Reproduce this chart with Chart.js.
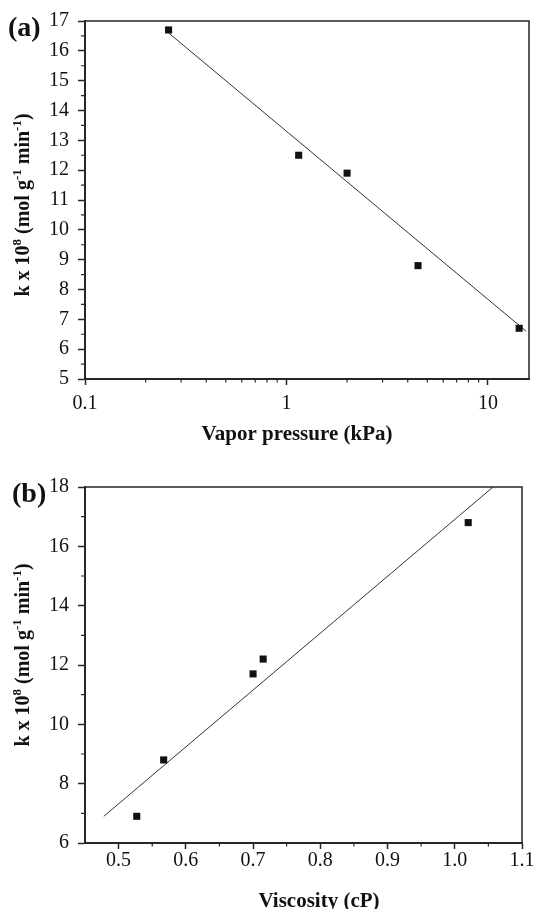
<!DOCTYPE html>
<html>
<head>
<meta charset="utf-8">
<script src="https://cdn.jsdelivr.net/npm/chart.js@4.4.1/dist/chart.umd.min.js"></script>
<style>
    html, body { margin: 0; padding: 0; background: #fff; }
    .panel { position: absolute; left: 0; width: 536px; }
    #wrapA { top: 0; height: 455px; }
    #wrapB { top: 455px; height: 454px; }
</style>
</head>
<body>
<div class="panel" id="wrapA"><canvas id="chartA"></canvas></div>
<div class="panel" id="wrapB"><canvas id="chartB"></canvas></div>
<script>
// (a) rate constant vs vapour pressure (log x)
const vaporPressure = [0.26, 1.15, 2.0, 4.5, 14.3];
const rateA = [16.7, 12.5, 11.9, 8.8, 6.7];
const fitAX = [0.26, 15.5];
const fitAY = [16.6, 6.6];
const xTicksA = [0.1, 1, 10];
const xMinorA = [0.2, 0.3, 0.4, 0.5, 0.6, 0.7, 0.8, 0.9, 2, 3, 4, 5, 6, 7, 8, 9];
const yMinorA = [5.5, 6.5, 7.5, 8.5, 9.5, 10.5, 11.5, 12.5, 13.5, 14.5, 15.5, 16.5];

// (b) rate constant vs viscosity
const viscosity = [0.527, 0.567, 0.70, 0.715, 1.02];
const rateB = [6.9, 8.8, 11.7, 12.2, 16.8];
const fitBX = [0.478, 1.057];
const fitBY = [6.9, 18.0];
const xTicksB = [0.5, 0.6, 0.7, 0.8, 0.9, 1.0, 1.1];
const xMinorB = [0.55, 0.65, 0.75, 0.85, 0.95, 1.05];
const yMinorB = [7, 9, 11, 13, 15, 17];

const INK = '#262626';
const SERIF = '"Liberation Serif", "Times New Roman", serif';
const yTitleParts = [
    { t: 'k x 10' }, { t: '8', sup: true }, { t: ' (mol g' }, { t: '-1', sup: true },
    { t: ' min' }, { t: '-1', sup: true }, { t: ')' }
];

// frame, minor ticks and the text that Chart.js titles can't do (superscripts)
const decorPlugin = {
    id: 'decor',
    afterDraw(chart, args, o) {
        const { ctx, chartArea: a, scales: { x, y } } = chart;
        ctx.save();
        ctx.strokeStyle = INK;
        ctx.lineWidth = 1.5;
        ctx.beginPath();
        ctx.moveTo(a.left, a.top);
        ctx.lineTo(a.right, a.top);
        ctx.lineTo(a.right, a.bottom);
        ctx.stroke();

        ctx.lineWidth = 1.2;
        ctx.beginPath();
        o.xMinor.forEach(v => {
            const px = x.getPixelForValue(v);
            ctx.moveTo(px, a.bottom); ctx.lineTo(px, a.bottom + 3.5);
        });
        o.yMinor.forEach(v => {
            const py = y.getPixelForValue(v);
            ctx.moveTo(a.left, py); ctx.lineTo(a.left - 4, py);
        });
        ctx.stroke();

        ctx.fillStyle = '#111';
        ctx.textBaseline = 'alphabetic';
        ctx.font = `bold 28px ${SERIF}`;
        ctx.textAlign = 'left';
        ctx.fillText(o.panel, o.panelX, o.panelY);

        ctx.font = `bold 21px ${SERIF}`;
        ctx.textAlign = 'center';
        ctx.fillText(o.xTitle, o.xTitleX, o.xTitleY);

        // rotated y title
        const size = 20, supSize = 13;
        const widths = yTitleParts.map(p => {
            ctx.font = `bold ${p.sup ? supSize : size}px ${SERIF}`;
            return ctx.measureText(p.t).width;
        });
        const total = widths.reduce((s, w) => s + w, 0);
        ctx.translate(o.yTitleX, o.yTitleY);
        ctx.rotate(-Math.PI / 2);
        ctx.textAlign = 'left';
        let cx = -total / 2;
        yTitleParts.forEach((p, i) => {
            ctx.font = `bold ${p.sup ? supSize : size}px ${SERIF}`;
            ctx.fillText(p.t, cx, p.sup ? -8 : 0);
            cx += widths[i];
        });
        ctx.restore();
    }
};

function makeChart(id, cfg) {
    const tickFont = { family: SERIF, size: 20 };
    return new Chart(document.getElementById(id), {
        type: 'scatter',
        data: {
            datasets: [{
                data: cfg.xs.map((v, i) => ({ x: v, y: cfg.ys[i] })),
                pointStyle: 'rect',
                pointRadius: 5,
                pointBorderWidth: 0,
                backgroundColor: '#111',
                borderColor: '#111'
            }, {
                data: cfg.fitX.map((v, i) => ({ x: v, y: cfg.fitY[i] })),
                showLine: true,
                pointRadius: 0,
                borderWidth: 1,
                borderColor: '#333'
            }]
        },
        options: {
            responsive: true,
            maintainAspectRatio: false,
            animation: false,
            layout: { padding: cfg.padding },
            plugins: {
                legend: { display: false },
                tooltip: { enabled: false },
                decor: cfg.decor
            },
            scales: {
                x: {
                    type: cfg.xType,
                    min: cfg.xMin,
                    max: cfg.xMax,
                    afterBuildTicks: s => { s.ticks = cfg.xTicks.map(v => ({ value: v })); },
                    afterFit: s => { s.height = cfg.xHeight; },
                    ticks: {
                        callback: cfg.xLabel,
                        font: tickFont,
                        color: '#111',
                        padding: cfg.xPad,
                        autoSkip: false,
                        maxRotation: 0
                    },
                    grid: { drawOnChartArea: false, tickLength: 6, tickWidth: 1.5, tickColor: INK },
                    border: { color: INK, width: 2 }
                },
                y: {
                    min: cfg.yMin,
                    max: cfg.yMax,
                    afterFit: s => { s.width = 85; },
                    ticks: { stepSize: cfg.yStep, font: tickFont, color: '#111', padding: 9 },
                    grid: { drawOnChartArea: false, tickLength: 7, tickWidth: 1.5, tickColor: INK },
                    border: { color: INK, width: 2 }
                }
            }
        },
        plugins: [decorPlugin]
    });
}

makeChart('chartA', {
    xs: vaporPressure, ys: rateA, fitX: fitAX, fitY: fitAY,
    xType: 'logarithmic', xMin: 0.1, xMax: 16, xTicks: xTicksA,
    xLabel: v => String(v), xPad: 6.5, xHeight: 76,
    yMin: 5, yMax: 17, yStep: 1,
    padding: { top: 18, right: 7, left: 0, bottom: 0 },
    decor: {
        xMinor: xMinorA, yMinor: yMinorA,
        panel: '(a)', panelX: 8, panelY: 36,
        xTitle: 'Vapor pressure (kPa)', xTitleX: 297, xTitleY: 440,
        yTitleX: 29, yTitleY: 205
    }
});

makeChart('chartB', {
    xs: viscosity, ys: rateB, fitX: fitBX, fitY: fitBY,
    xType: 'linear', xMin: 0.45, xMax: 1.1, xTicks: xTicksB,
    xLabel: v => v.toFixed(1), xPad: 0, xHeight: 66,
    yMin: 6, yMax: 18, yStep: 2,
    padding: { top: 32, right: 14, left: 0, bottom: 0 },
    decor: {
        xMinor: xMinorB, yMinor: yMinorB,
        panel: '(b)', panelX: 12, panelY: 47,
        xTitle: 'Viscosity (cP)', xTitleX: 319, xTitleY: 452,
        yTitleX: 29, yTitleY: 200
    }
});
</script>
</body>
</html>
